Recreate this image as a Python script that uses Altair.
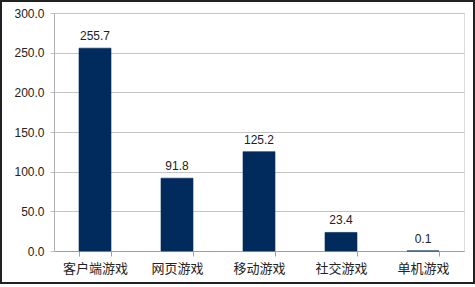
import altair as alt
import pandas as pd

categories = ["客户端游戏", "网页游戏", "移动游戏", "社交游戏", "单机游戏"]
values = [255.7, 91.8, 125.2, 23.4, 0.1]
labels = ["255.7", "91.8", "125.2", "23.4", "0.1"]

df = pd.DataFrame({"cat": categories, "val": values, "lab": labels})

x = alt.X("cat:N", sort=categories, title=None,
          scale=alt.Scale(paddingInner=0.6, paddingOuter=0.3),
          axis=alt.Axis(labelAngle=0, labelFont="Noto Sans CJK SC", labelFontSize=13,
                        labelColor="#222", labelPadding=6, domainColor="#a0a0a0",
                        tickColor="#a0a0a0", tickSize=5, tickBand="extent", grid=False))
y = alt.Y("val:Q", title=None,
          scale=alt.Scale(domain=[0, 300], nice=False),
          axis=alt.Axis(values=[0, 50, 100, 150, 200, 250, 300], format=".1f",
                        labelFont="Liberation Sans", labelFontSize=12, labelColor="#222",
                        labelOverlap=False, labelPadding=6, domain=True, domainColor="#b0b0b0",
                        ticks=True, tickSize=4,
                        tickColor="#c0c0c0", gridColor="#c4c4c4", gridWidth=1))

base = alt.Chart(df).encode(x=x, y=y)
bars = base.mark_bar(color="#002b5c", size=32, stroke="#002b5c", strokeWidth=0.6)
text = base.mark_text(dy=-12, font="Liberation Sans", fontSize=12, color="#222").encode(text="lab:N")

frame = alt.Chart(df).mark_rect(fill=None, stroke="#222", strokeWidth=1.5).encode(
    x=alt.value(-53), x2=alt.value(420), y=alt.value(-12), y2=alt.value(270))

chart = alt.layer(bars, text, frame).properties(
    width=410, height=238,
    autosize=alt.AutoSizeParams(type="none"),
    padding={"left": 54, "top": 13, "right": 11, "bottom": 36},
).configure_view(stroke=None).configure(background="white")

chart.save("out.html", embed_options={"renderer": "svg", "actions": False})
